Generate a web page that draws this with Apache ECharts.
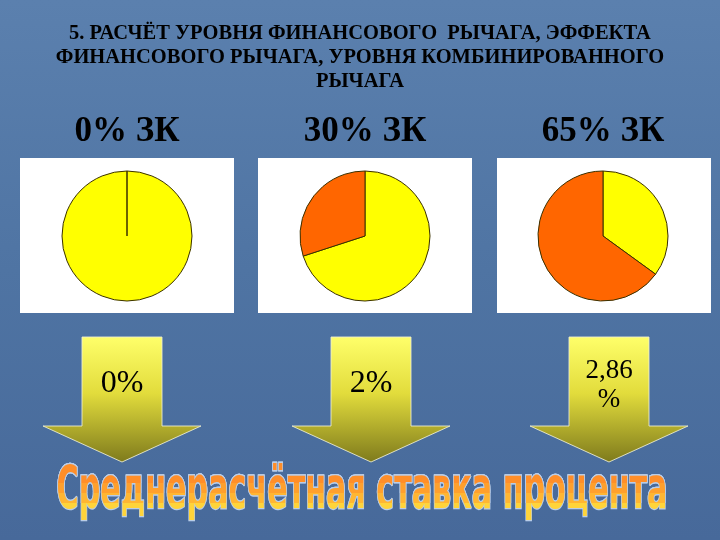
<!DOCTYPE html>
<html>
<head>
<meta charset="utf-8">
<script src="https://cdn.jsdelivr.net/npm/echarts@6/dist/echarts.min.js"></script>
<style>
  html, body { margin: 0; padding: 0; }
  #main { width: 720px; height: 540px; }
</style>
</head>
<body>
<div id="main"></div>
<script>
// доля собственного / заёмного капитала для трёх вариантов
var scenarioNames = ['0% ЗК', '30% ЗК', '65% ЗК'];
var ownShare = [100, 70, 35];
var loanShare = [0, 30, 65];
var rateLabels = ['0%', '2%', '2,86\n%'];
var sliceColors = ['#ffff00', '#ff6600'];

var titleText = '5. РАСЧЁТ УРОВНЯ ФИНАНСОВОГО  РЫЧАГА, ЭФФЕКТА\nФИНАНСОВОГО РЫЧАГА, УРОВНЯ КОМБИНИРОВАННОГО\nРЫЧАГА';
var bottomText = 'Среднерасчётная ставка процента';

// раскладка
var pieX = [127, 365, 603];
var boxX = [20, 258, 497];
var arrowX = [122, 371, 609];

var series = [];
var graphics = [];

for (var i = 0; i < scenarioNames.length; i++) {
	graphics.push({
		type: 'rect', z: 1,
		shape: { x: boxX[i], y: 158, width: 214, height: 155 },
		style: { fill: '#ffffff' }
	});
	graphics.push({
		type: 'text', z: 3,
		x: pieX[i], y: 132,
		style: {
			text: scenarioNames[i], fill: '#000',
			font: 'bold 35px "Liberation Serif"',
			textAlign: 'center', textVerticalAlign: 'middle'
		}
	});
	series.push({
		type: 'pie',
		center: [pieX[i], 236],
		radius: 65,
		startAngle: 90,
		clockwise: true,
		silent: true,
		animation: false,
		label: { show: false },
		labelLine: { show: false },
		itemStyle: { borderColor: '#3a3000', borderWidth: 1 },
		data: [
			{ value: ownShare[i], itemStyle: { color: sliceColors[0] } },
			{ value: loanShare[i], itemStyle: { color: sliceColors[1] } }
		]
	});

	var cx = arrowX[i];
	graphics.push({
		type: 'polygon', z: 3,
		shape: { points: [
			[cx - 40, 337], [cx + 40, 337], [cx + 40, 426], [cx + 79, 426],
			[cx, 462], [cx - 79, 426], [cx - 40, 426]
		] },
		style: {
			fill: new echarts.graphic.LinearGradient(0, 0, 0, 1, [
				{ offset: 0, color: '#ffff6a' },
				{ offset: 0.45, color: '#e2dc3c' },
				{ offset: 1, color: '#7e7a1c' }
			]),
			stroke: 'rgba(240,240,210,0.85)', lineWidth: 1
		}
	});
	graphics.push({
		type: 'text', z: 4,
		x: cx, y: i == 2 ? 385 : 384,
		style: {
			text: rateLabels[i], fill: '#000',
			font: (i == 2 ? '27px' : '32px') + ' "Liberation Serif"',
			lineHeight: 29,
			textAlign: 'center', textVerticalAlign: 'middle'
		}
	});
}

var option = {
	backgroundColor: new echarts.graphic.LinearGradient(0, 0, 0, 1, [
		{ offset: 0, color: '#5b80ae' },
		{ offset: 0.5, color: '#4f74a3' },
		{ offset: 1, color: '#47699a' }
	]),
	title: {
		text: titleText,
		left: 'center',
		top: 17,
		textStyle: {
			fontFamily: 'Liberation Serif',
			fontWeight: 'bold',
			fontSize: 20.5,
			lineHeight: 24,
			color: '#000'
		}
	},
	graphic: graphics,
	series: series
};

var chart = echarts.init(document.getElementById('main'));
chart.setOption(option);

// нижняя надпись: текст с заливкой не градиентом, поэтому слои с обрезкой по высоте
var bottomFont = 'bold 58px "DejaVu Sans"';
var ctx = document.createElement('canvas').getContext('2d');
ctx.font = bottomFont;
var bw = ctx.measureText(bottomText).width;
var bands = [
	{ top: -100, color: '#ffd43a' },
	{ top: -100, bottom: 10, color: '#ffb632' },
	{ top: -100, bottom: 0, color: '#ffa02d' },
	{ top: -100, bottom: -10, color: '#ff8e29' }
];
var zr = chart.getZr();
bands.forEach(function (b) {
	var t = new echarts.graphic.Text({
		x: 362, y: 493, scaleX: 611 / bw, z: 10,
		style: {
			text: bottomText, font: bottomFont,
			align: 'center', verticalAlign: 'middle',
			fill: b.color, stroke: '#b9cde8', lineWidth: 2.5
		}
	});
	if (b.bottom != null) {
		t.setClipPath(new echarts.graphic.Rect({
			shape: { x: -3000, y: b.top, width: 6000, height: b.bottom - b.top }
		}));
	}
	zr.add(t);
});
</script>
</body>
</html>
